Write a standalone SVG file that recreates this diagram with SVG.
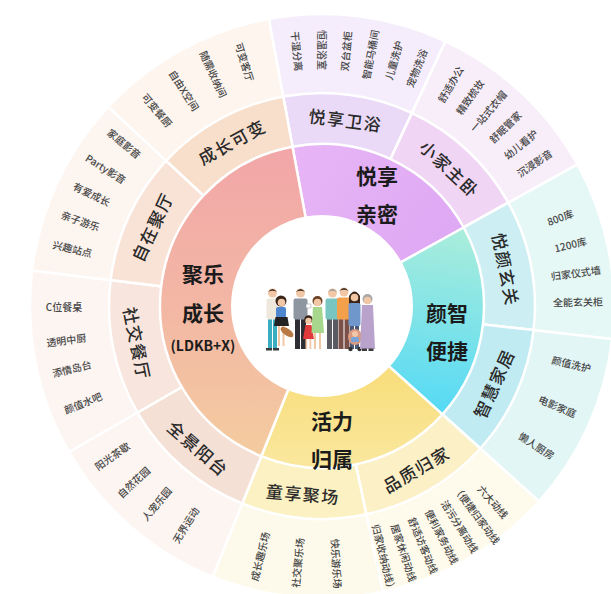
<svg xmlns="http://www.w3.org/2000/svg" width="611" height="594" viewBox="0 0 611 594">
  <defs>
    <linearGradient id="gGrowth" gradientUnits="userSpaceOnUse" x1="0" y1="150" x2="0" y2="460">
      <stop offset="0" stop-color="#f2a6a8"/>
      <stop offset="0.55" stop-color="#f3b9a4"/>
      <stop offset="1" stop-color="#f4cc9f"/>
    </linearGradient>
    <linearGradient id="gEase" gradientUnits="userSpaceOnUse" x1="445" y1="228" x2="420" y2="418">
      <stop offset="0" stop-color="#aaeddb"/>
      <stop offset="1" stop-color="#52d9f6"/>
    </linearGradient>
    <linearGradient id="gIntimacy" gradientUnits="userSpaceOnUse" x1="300" y1="150" x2="450" y2="250">
      <stop offset="0" stop-color="#e7b5f6"/>
      <stop offset="1" stop-color="#dea8f3"/>
    </linearGradient>
    <linearGradient id="gBelong" gradientUnits="userSpaceOnUse" x1="0" y1="380" x2="0" y2="460">
      <stop offset="0" stop-color="#f8de7e"/>
      <stop offset="1" stop-color="#fae79c"/>
    </linearGradient>
  </defs>
  <style>
    .sep { stroke: #ffffff; stroke-width: 2.5; stroke-linejoin: round; }
    text { font-family: "Noto Sans CJK SC", "Noto Sans", sans-serif; text-anchor: middle; dominant-baseline: central; }
    .main { font-size: 21px; font-weight: 700; fill: #1b1b1b; }
    .code { font-size: 14px; font-weight: 700; fill: #1b1b1b; }
    .sub { font-size: 17px; font-weight: 500; fill: #2a2a2a; letter-spacing: 1.5px; }
    .item { font-size: 10px; font-weight: 500; fill: #474747; }
    .skin { fill: #f1c7a6; }
  </style>

  <rect width="611" height="594" fill="#ffffff"/>

  <!-- bath -->
  <g id="seg-bath">
    <path class="sep" d="M322 306 L268.8 18.9 A292 292 0 0 1 445.4 41.4 Z" fill="#f5edfb"/>
    <path class="sep" d="M322 306 L283.2 96.6 A213 213 0 0 1 412 113 Z" fill="#ebdaf7"/>
    <text class="sub" transform="translate(345.7 119.5) rotate(7.25)">悦享卫浴</text>
    <text class="item" transform="translate(297.5 51.2) rotate(84.5)">干湿分离</text>
    <text class="item" transform="translate(322 50) rotate(90)">恒温浴室</text>
    <text class="item" transform="translate(345.6 51.1) rotate(-84.7)">双台盆柜</text>
    <text class="item" transform="translate(370 54.5) rotate(-79.2)">智能马桶间</text>
    <text class="item" transform="translate(393.4 60.2) rotate(-73.8)">儿童洗护</text>
    <text class="item" transform="translate(416.2 68) rotate(-68.4)">宠物洗浴</text>
  </g>

  <!-- master bedroom -->
  <g id="seg-bedroom">
    <path class="sep" d="M322 306 L445.4 41.4 A292 292 0 0 1 577.4 164.4 Z" fill="#f8eef9"/>
    <path class="sep" d="M322 306 L412 113 A213 213 0 0 1 508.3 202.7 Z" fill="#f1d5f4"/>
    <text class="sub" transform="translate(450.2 168.5) rotate(43)">小家主卧</text>
    <text class="item" transform="translate(450 84.3) rotate(-60)">舒适办公</text>
    <text class="item" transform="translate(469.6 96.8) rotate(-54.8)">精致梳妆</text>
    <text class="item" transform="translate(487.9 111.1) rotate(-49.6)">一站式衣帽</text>
    <text class="item" transform="translate(504.9 126.9) rotate(-44.4)">舒眠管家</text>
    <text class="item" transform="translate(520.4 144.2) rotate(-39.2)">幼儿看护</text>
    <text class="item" transform="translate(534.2 162.8) rotate(-34)">沉浸影音</text>
  </g>

  <!-- entrance -->
  <g id="seg-entry">
    <path class="sep" d="M322 306 L577.4 164.4 A292 292 0 0 1 612.1 339.1 Z" fill="#e6f8f5"/>
    <path class="sep" d="M322 306 L508.3 202.7 A213 213 0 0 1 533.6 330.1 Z" fill="#cdeff3"/>
    <text class="sub" transform="translate(506.4 269.3) rotate(78.75)">悦颜玄关</text>
    <text class="item" transform="translate(560 217) rotate(-20.5)">800库</text>
    <text class="item" transform="translate(570.4 244.1) rotate(-14)">1200库</text>
    <text class="item" transform="translate(575.8 272.6) rotate(-7.5)">归家仪式墙</text>
    <text class="item" transform="translate(578 301.5) rotate(-1)">全能玄关柜</text>
  </g>

  <!-- smart home -->
  <g id="seg-smart">
    <path class="sep" d="M322 306 L612.1 339.1 A292 292 0 0 1 539 501.4 Z" fill="#e2f6f6"/>
    <path class="sep" d="M322 306 L533.6 330.1 A213 213 0 0 1 480.3 448.5 Z" fill="#c0ebf3"/>
    <text class="sub" transform="translate(493.4 383.2) rotate(-65.75)">智慧家居</text>
    <text class="item" transform="translate(571.4 363.6) rotate(13)">颜值洗护</text>
    <text class="item" transform="translate(557.6 406) rotate(23)">电影家庭</text>
    <text class="item" transform="translate(536.7 445.4) rotate(33)">懒人厨房</text>
  </g>

  <!-- homecoming -->
  <g id="seg-return">
    <path class="sep" d="M322 306 L539 501.4 A292 292 0 0 1 382.7 591.6 Z" fill="#fefaec"/>
    <path class="sep" d="M322 306 L480.3 448.5 A213 213 0 0 1 366.3 514.3 Z" fill="#fcf0c7"/>
    <text class="sub" transform="translate(416 468.8) rotate(-30)">品质归家</text>
    <text class="item" transform="translate(493.3 501.6) rotate(48.8)">六大动线</text>
    <text class="item" transform="translate(477.2 514.6) rotate(53.35)">（便捷归家动线</text>
    <text class="item" transform="translate(460.2 526.2) rotate(57.9)">洁污分离动线</text>
    <text class="item" transform="translate(442.3 536.5) rotate(62.45)">便利家务动线</text>
    <text class="item" transform="translate(423.6 545.3) rotate(67)">舒适访客动线</text>
    <text class="item" transform="translate(404.3 552.6) rotate(71.55)">居家休闲动线</text>
    <text class="item" transform="translate(384.5 558.4) rotate(76.1)">归家收纳动线）</text>
  </g>

  <!-- kids -->
  <g id="seg-kids">
    <path class="sep" d="M322 306 L382.7 591.6 A292 292 0 0 1 212.6 576.7 Z" fill="#fefaeb"/>
    <path class="sep" d="M322 306 L366.3 514.3 A213 213 0 0 1 242.2 503.5 Z" fill="#fcf1c2"/>
    <text class="sub" transform="translate(303 493.3) rotate(5)">童享聚场</text>
    <text class="item" transform="translate(336.9 563.6) rotate(86.7)">快乐游乐场</text>
    <text class="item" transform="translate(297.3 562.8) rotate(-84.5)">社交聚乐场</text>
    <text class="item" transform="translate(259.6 556.3) rotate(-76)">成长趣乐场</text>
  </g>

  <!-- balcony -->
  <g id="seg-balcony">
    <path class="sep" d="M322 306 L212.6 576.7 A292 292 0 0 1 69.1 452 Z" fill="#fdf5f1"/>
    <path class="sep" d="M322 306 L242.2 503.5 A213 213 0 0 1 137.5 412.5 Z" fill="#f5e0d6"/>
    <text class="sub" transform="translate(198.7 447.9) rotate(41)">全景阳台</text>
    <text class="item" transform="translate(185.3 524.8) rotate(-58)">无界运动</text>
    <text class="item" transform="translate(156.2 503.6) rotate(-50)">人宠乐园</text>
    <text class="item" transform="translate(133.3 482) rotate(-43)">自然花园</text>
    <text class="item" transform="translate(111.9 455.8) rotate(-35.5)">阳光茶歇</text>
  </g>

  <!-- dining -->
  <g id="seg-dining">
    <path class="sep" d="M322 306 L69.1 452 A292 292 0 0 1 32.2 270.4 Z" fill="#fdf5f2"/>
    <path class="sep" d="M322 306 L137.5 412.5 A213 213 0 0 1 110.6 280 Z" fill="#f8e5dd"/>
    <text class="sub" transform="translate(137.8 343.5) rotate(78.5)">社交餐厅</text>
    <text class="item" transform="translate(82.8 402.6) rotate(-22)">颜值水吧</text>
    <text class="item" transform="translate(71.7 368.4) rotate(-14)">添情岛台</text>
    <text class="item" transform="translate(66.2 339.7) rotate(-7.5)">透明中厨</text>
    <text class="item" transform="translate(64 306)">C位餐桌</text>
  </g>

  <!-- living room -->
  <g id="seg-living">
    <path class="sep" d="M322 306 L32.2 270.4 A292 292 0 0 1 108.4 106.9 Z" fill="#fdf5f0"/>
    <path class="sep" d="M322 306 L110.6 280 A213 213 0 0 1 166.2 160.7 Z" fill="#f9e3d7"/>
    <text class="sub" transform="translate(151.6 226.6) rotate(-65)">自在聚厅</text>
    <text class="item" transform="translate(72.6 248.4) rotate(13)">兴趣站点</text>
    <text class="item" transform="translate(80.7 220.5) rotate(19.5)">亲子游乐</text>
    <text class="item" transform="translate(91.9 193.8) rotate(26)">有爱成长</text>
    <text class="item" transform="translate(106.1 168.5) rotate(32.5)">Party影音</text>
    <text class="item" transform="translate(124.5 143.2) rotate(39.5)">家庭影音</text>
  </g>

  <!-- flexible space -->
  <g id="seg-flex">
    <path class="sep" d="M322 306 L108.4 106.9 A292 292 0 0 1 268.8 18.9 Z" fill="#fdf5ee"/>
    <path class="sep" d="M322 306 L166.2 160.7 A213 213 0 0 1 283.2 96.6 Z" fill="#f8dfcc"/>
    <text class="sub" transform="translate(231.6 141.2) rotate(-28.75)">成长可变</text>
    <text class="item" transform="translate(157.4 109.9) rotate(50)">可变餐厨</text>
    <text class="item" transform="translate(184.5 90.1) rotate(57.5)">自由X空间</text>
    <text class="item" transform="translate(213.8 74) rotate(65)">随需收纳间</text>
    <text class="item" transform="translate(245 61.9) rotate(72.5)">可变客厅</text>
  </g>

  <!-- four core zones -->
  <g id="zone-intimacy">
    <path class="sep" d="M322 306 L292.5 146.7 A162 162 0 0 1 463.7 227.5 Z" fill="url(#gIntimacy)"/>
    <text class="main" x="377" y="175">悦享</text>
    <text class="main" x="377" y="213">亲密</text>
  </g>
  <g id="zone-ease">
    <path class="sep" d="M322 306 L463.7 227.5 A162 162 0 0 1 442.4 414.4 Z" fill="url(#gEase)"/>
    <text class="main" x="447" y="312">颜智</text>
    <text class="main" x="447" y="350">便捷</text>
  </g>
  <g id="zone-belonging">
    <path class="sep" d="M322 306 L442.4 414.4 A162 162 0 0 1 261.3 456.2 Z" fill="url(#gBelong)"/>
    <text class="main" x="332" y="420">活力</text>
    <text class="main" x="332" y="458">归属</text>
  </g>
  <g id="zone-growth">
    <path class="sep" d="M322 306 L261.3 456.2 A162 162 0 0 1 292.5 146.7 Z" fill="url(#gGrowth)"/>
    <text class="main" x="203" y="273">聚乐</text>
    <text class="main" x="203" y="312">成长</text>
    <text class="code" x="203" y="345">(LDKB+X)</text>
  </g>

  <!-- centre: family figures -->
  <g id="family">
    <circle cx="322" cy="306" r="90" fill="#ffffff" stroke="#ffffff" stroke-width="2"/>
    <!-- father, white shirt -->
    <rect x="268" y="318" width="4" height="31" fill="#3aaec0"/>
    <rect x="273" y="318" width="4" height="31" fill="#3aaec0"/>
    <rect x="266.5" y="298.5" width="12" height="21" rx="2" fill="#efe8dd"/>
    <circle cx="272.5" cy="293" r="4.5" class="skin"/>
    <path d="M268 292 Q272.5 286 277 292 Q272.5 289.5 268 292 Z" fill="#4a3222"/>
    <rect x="266" y="348" width="6" height="2.5" fill="#3a3a3a"/>
    <rect x="273" y="348" width="6" height="2.5" fill="#3a3a3a"/>
    <!-- mother in blue carrying toddler -->
    <circle cx="281" cy="301" r="5.5" fill="#3a2418"/>
    <circle cx="281.5" cy="302.5" r="3.8" class="skin"/>
    <rect x="276" y="307" width="10" height="11" rx="2" fill="#4f86d0"/>
    <path d="M275.5 317 L287.5 317 L289 326 L274 326 Z" fill="#222222"/>
    <rect x="278" y="326" width="2" height="20" class="skin"/>
    <rect x="282.5" y="326" width="2" height="20" class="skin"/>
    <ellipse cx="287" cy="332" rx="7.5" ry="3.5" transform="rotate(35 287 332)" fill="#b87a42"/>
    <!-- father, grey shirt -->
    <rect x="295" y="318" width="5" height="31" fill="#2e2e34"/>
    <rect x="301" y="318" width="5" height="31" fill="#2e2e34"/>
    <rect x="293.5" y="298.5" width="14" height="21" rx="2" fill="#8e96a2"/>
    <circle cx="300.5" cy="293" r="4.5" class="skin"/>
    <path d="M296 292 Q300.5 286 305 292 Q300.5 289.5 296 292 Z" fill="#3a2a20"/>
    <rect x="306" y="304" width="5" height="4" rx="1" fill="#ffffff" stroke="#9aa0a8" stroke-width="0.6"/>
    <!-- daughter, red dress -->
    <circle cx="308.5" cy="319.5" r="4.2" fill="#3a2418"/>
    <circle cx="308.5" cy="321" r="3.2" class="skin"/>
    <path d="M305.5 325 L311.5 325 L314 339 L303 339 Z" fill="#e03a3a"/>
    <rect x="305.5" y="339" width="1.8" height="10" class="skin"/>
    <rect x="309.5" y="339" width="1.8" height="10" class="skin"/>
    <!-- mother, green dress -->
    <circle cx="317.5" cy="301" r="5" fill="#6a4028"/>
    <circle cx="317.5" cy="302.5" r="3.8" class="skin"/>
    <path d="M313 307 L322 307 L324 333 L311.5 333 Z" fill="#a6d78c"/>
    <rect x="314" y="333" width="2" height="16" class="skin"/>
    <rect x="319" y="333" width="2" height="16" class="skin"/>
    <!-- grandfather, teal shirt -->
    <rect x="327" y="318" width="5" height="31" fill="#5a5a62"/>
    <rect x="333" y="318" width="5" height="31" fill="#5a5a62"/>
    <rect x="325.5" y="298.5" width="14" height="21" rx="2" fill="#78c5c2"/>
    <circle cx="332.5" cy="293" r="4.5" class="skin"/>
    <path d="M328 292 Q332.5 286 337 292 Q332.5 289.5 328 292 Z" fill="#9a9a9a"/>
    <!-- uncle, orange vest -->
    <rect x="338.5" y="318" width="5" height="31" fill="#7a5048"/>
    <rect x="344.5" y="318" width="5" height="31" fill="#7a5048"/>
    <rect x="337" y="297.5" width="14" height="22" rx="2" fill="#f2a04a"/>
    <circle cx="344" cy="292" r="4.5" class="skin"/>
    <path d="M339.5 291 Q344 285 348.5 291 Q344 288.5 339.5 291 Z" fill="#3a2a20"/>
    <!-- aunt, blue jacket -->
    <path d="M349 296 Q354.5 287 360 296 L360 310 L349 310 Z" fill="#3a2418"/>
    <circle cx="354.5" cy="297.5" r="3.8" class="skin"/>
    <rect x="348.5" y="303" width="12" height="23" rx="2" fill="#6f97cc"/>
    <rect x="350" y="326" width="4" height="23" fill="#4a5a78"/>
    <rect x="355" y="326" width="4" height="23" fill="#4a5a78"/>
    <!-- stroller with baby -->
    <ellipse cx="355" cy="337" rx="7" ry="8" fill="#d99a82"/>
    <circle cx="355" cy="334" r="3" class="skin"/>
    <rect x="351" y="337" width="8" height="5" rx="1.5" fill="#7aa4d8"/>
    <circle cx="350.5" cy="349" r="2.2" fill="#333333"/>
    <circle cx="359.5" cy="349" r="2.2" fill="#333333"/>
    <!-- grandmother, purple dress -->
    <circle cx="367.5" cy="299" r="5" fill="#a8a8a8"/>
    <circle cx="367.5" cy="300.5" r="3.8" class="skin"/>
    <path d="M362 305 L373 305 L375 349 L360 349 Z" fill="#b9a3cc"/>
    <rect x="362" y="348.5" width="5" height="2.5" fill="#3a3a3a"/>
    <rect x="368.5" y="348.5" width="5" height="2.5" fill="#3a3a3a"/>
  </g>
</svg>
